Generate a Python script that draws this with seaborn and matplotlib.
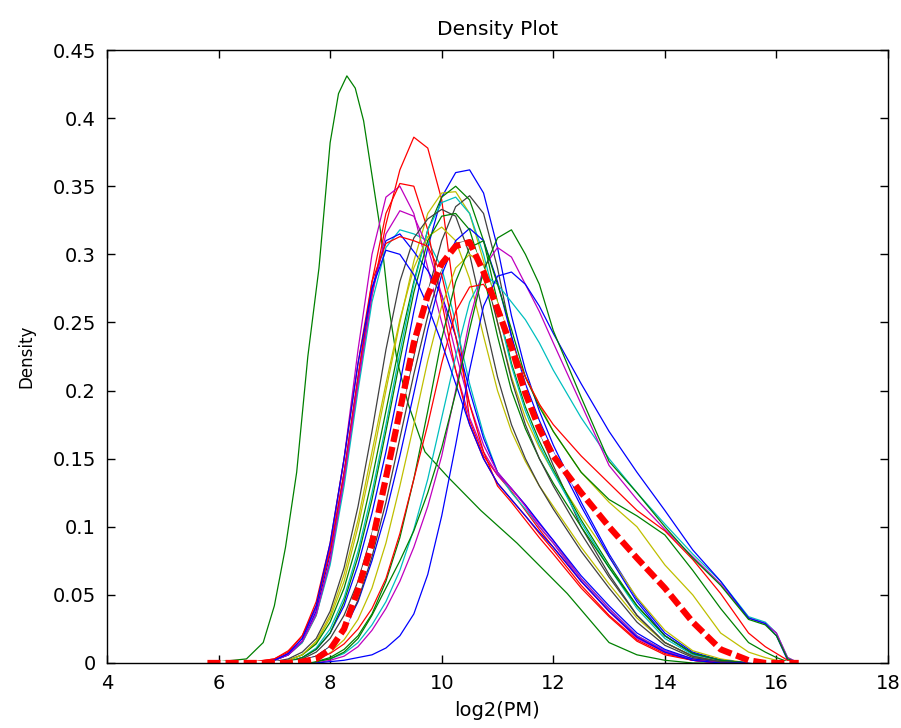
import numpy as np
import pandas as pd
import matplotlib
matplotlib.use("Agg")
import matplotlib.pyplot as plt
import seaborn as sns

# common x grid (log2 PM) the densities were read at
grid_x = [5.8, 6.5, 7.0, 7.25, 7.5, 7.75, 8.0, 8.25, 8.5, 8.75, 9.0, 9.25, 9.5, 9.75,
          10.0, 10.25, 10.5, 10.75, 11.0, 11.25, 11.5, 11.75, 12.0, 12.5, 13.0, 13.5,
          14.0, 14.5, 15.0, 15.5, 15.8, 16.0, 16.2, 16.4]

# MATLAB style colours
B, G, R, C, M, Y, K = "#0000FF", "#008000", "#FF0000", "#00BFBF", "#BF00BF", "#BFBF00", "#404040"

# the tall early sample has its own, finer x points
green_tall_x = [5.8, 6.5, 6.8, 7.0, 7.2, 7.4, 7.6, 7.8, 8.0, 8.15, 8.3, 8.45, 8.6, 8.75, 8.9,
                9.05, 9.2, 9.4, 9.7, 10.1, 10.7, 11.35, 12.25, 13.0, 13.5, 14.0, 14.5, 16.4]
green_tall = [0, .003, .015, .042, .085, .14, .225, .29, .382, .418, .431, .422, .398, .358, .318,
              .262, .222, .19, .155, .137, .112, .088, .051, .015, .006, .002, 0, 0]

# density per array (on grid_x)
red_tall = [0, 0, .002, .006, .015, .035, .075, .135, .205, .27, .322, .362, .386, .378, .34, .262, .178, .152, .138, .126, .112, .098, .085, .06, .038, .019, .008, .002, 0, 0, 0, 0, 0, 0]
magenta_a = [0, 0, .002, .007, .018, .04, .085, .15, .23, .30, .342, .35, .33, .29, .25, .215, .18, .155, .138, .128, .116, .102, .09, .062, .04, .02, .009, .003, .001, 0, 0, 0, 0, 0]
red_a = [0, 0, .003, .009, .02, .042, .082, .14, .21, .28, .33, .352, .35, .318, .265, .215, .175, .15, .132, .12, .108, .095, .083, .057, .035, .017, .007, .002, 0, 0, 0, 0, 0, 0]
magenta_b = [0, 0, .002, .006, .016, .036, .075, .135, .205, .27, .315, .332, .328, .305, .27, .228, .19, .16, .14, .128, .115, .10, .088, .06, .038, .018, .008, .002, 0, 0, 0, 0, 0, 0]
cyan_a = [0, 0, .002, .006, .015, .035, .072, .13, .20, .265, .305, .318, .315, .31, .29, .25, .205, .168, .14, .125, .113, .10, .088, .062, .04, .02, .009, .003, .001, 0, 0, 0, 0, 0]
blue_a = [0, 0, .002, .006, .016, .038, .08, .14, .21, .275, .31, .315, .302, .288, .27, .24, .20, .165, .14, .128, .116, .103, .09, .064, .042, .022, .01, .003, .001, 0, 0, 0, 0, 0]
red_b = [0, 0, .003, .008, .02, .045, .088, .15, .22, .28, .308, .313, .31, .306, .285, .24, .19, .155, .13, .118, .105, .092, .08, .055, .034, .016, .006, .002, 0, 0, 0, 0, 0, 0]
blue_b = [0, 0, .002, .007, .018, .042, .088, .15, .22, .275, .303, .30, .285, .262, .235, .205, .175, .15, .132, .12, .108, .096, .085, .06, .038, .019, .008, .002, 0, 0, 0, 0, 0, 0]
blue_c = [0, 0, 0, .001, .004, .01, .022, .042, .072, .11, .155, .205, .258, .305, .342, .36, .362, .345, .305, .255, .215, .185, .16, .118, .08, .047, .022, .008, .002, 0, 0, 0, 0, 0]
green_a = [0, 0, 0, .002, .006, .014, .03, .055, .09, .135, .185, .235, .28, .318, .342, .35, .34, .31, .265, .22, .188, .163, .142, .105, .072, .042, .02, .007, .002, 0, 0, 0, 0, 0]
yellow_a = [0, 0, 0, .002, .006, .015, .033, .06, .10, .148, .20, .25, .295, .33, .345, .346, .33, .295, .25, .21, .18, .158, .14, .108, .078, .048, .024, .009, .003, 0, 0, 0, 0, 0]
cyan_b = [0, 0, 0, .001, .004, .011, .025, .048, .082, .125, .175, .228, .278, .318, .338, .342, .33, .30, .26, .218, .185, .16, .14, .103, .07, .04, .018, .006, .002, 0, 0, 0, 0, 0]
gray_a = [0, 0, 0, .001, .003, .008, .018, .035, .06, .095, .135, .18, .225, .272, .31, .335, .343, .33, .29, .24, .20, .17, .145, .10, .065, .035, .015, .005, .001, 0, 0, 0, 0, 0]
gray_b = [0, 0, .001, .003, .008, .018, .038, .07, .115, .17, .23, .28, .312, .326, .333, .328, .30, .255, .21, .175, .15, .13, .113, .082, .055, .03, .013, .004, .001, 0, 0, 0, 0, 0]
blue_d = [0, 0, 0, 0, .002, .005, .012, .024, .045, .075, .11, .152, .198, .245, .285, .31, .319, .31, .28, .24, .205, .178, .155, .115, .078, .045, .02, .007, .002, 0, 0, 0, 0, 0]
yellow_b = [0, 0, 0, .002, .006, .016, .035, .065, .105, .155, .205, .252, .29, .313, .32, .31, .282, .24, .20, .17, .148, .13, .115, .085, .058, .033, .015, .005, .001, 0, 0, 0, 0, 0]
green_b = [0, 0, 0, .001, .004, .01, .022, .045, .078, .12, .17, .222, .272, .31, .328, .33, .318, .285, .24, .20, .172, .15, .132, .10, .07, .042, .02, .007, .002, 0, 0, 0, 0, 0]
gray_c = [0, 0, 0, 0, .002, .005, .012, .025, .046, .078, .118, .165, .212, .255, .29, .308, .31, .29, .25, .208, .175, .15, .13, .095, .063, .035, .015, .005, .001, 0, 0, 0, 0, 0]
yellow_c = [0, 0, 0, 0, .001, .003, .008, .017, .032, .055, .088, .13, .175, .222, .262, .29, .30, .292, .265, .235, .21, .19, .17, .14, .118, .10, .072, .05, .022, .008, .004, .002, 0, 0]
red_c = [0, 0, 0, 0, .001, .003, .007, .014, .025, .04, .062, .095, .135, .175, .22, .258, .276, .278, .262, .235, .21, .19, .175, .152, .132, .112, .097, .076, .051, .022, .012, .007, .002, 0]
green_c = [0, 0, 0, 0, 0, .001, .004, .01, .02, .036, .06, .092, .135, .185, .238, .28, .305, .31, .278, .245, .21, .188, .17, .14, .12, .108, .094, .068, .04, .015, .008, .004, .001, 0]
green_d = [0, 0, 0, 0, 0, .001, .003, .008, .018, .035, .055, .075, .097, .125, .158, .198, .245, .288, .312, .318, .30, .278, .244, .195, .148, .125, .10, .077, .057, .032, .028, .02, .003, 0]
magenta_c = [0, 0, 0, 0, 0, 0, .002, .005, .012, .024, .04, .06, .085, .115, .152, .2, .252, .29, .305, .298, .278, .258, .235, .19, .145, .12, .098, .078, .058, .033, .029, .022, .004, 0]
blue_e = [0, 0, 0, 0, 0, 0, .001, .002, .004, .006, .011, .02, .036, .065, .108, .16, .215, .262, .284, .287, .278, .262, .242, .205, .17, .14, .112, .083, .06, .033, .029, .02, .002, 0]
cyan_c = [0, 0, 0, 0, 0, .001, .003, .007, .015, .028, .045, .068, .098, .135, .18, .225, .265, .285, .278, .265, .252, .235, .215, .18, .15, .125, .102, .08, .06, .034, .03, .022, .004, 0]
# mean density (thick dashed)
mean_density = [0, 0, 0, 0, .001, .003, .01, .025, .054, .088, .136, .185, .235, .27, .293, .306, .309, .287, .26, .232, .198, .172, .152, .125, .10, .077, .055, .03, .01, .002, 0, 0, 0, 0]

curves = [
    (blue_c, B), (red_tall, R), (cyan_a, C), (magenta_a, M), (yellow_a, Y), (gray_a, K),
    (blue_a, B), (green_a, G), (red_a, R), (cyan_b, C), (magenta_b, M), (yellow_b, Y), (gray_b, K),
    (blue_d, B), (green_b, G), (red_b, R), (cyan_c, C), (magenta_c, M), (yellow_c, Y), (gray_c, K),
    (blue_e, B), (green_c, G), (red_c, R), (blue_b, B), (green_d, G),
]

sns.set_style("ticks")
plt.rcParams["font.family"] = ["DejaVu Sans"]
plt.rcParams["text.color"] = "black"
plt.rcParams["axes.labelcolor"] = "black"
plt.rcParams["xtick.color"] = "black"
plt.rcParams["ytick.color"] = "black"

fig = plt.figure(figsize=(9.01, 7.28), dpi=100)
ax = fig.add_axes([107 / 901, 65 / 728, 781 / 901, 613 / 728])

sns.lineplot(x=green_tall_x, y=green_tall, color=G, lw=0.9, ax=ax, sort=False)
for vals, col in curves:
    sns.lineplot(x=grid_x, y=vals, color=col, lw=0.9, ax=ax, sort=False)

sns.lineplot(x=grid_x, y=mean_density, color="white", lw=3, ax=ax, sort=False)
sns.lineplot(x=grid_x, y=mean_density, color=R, lw=4.5, ax=ax, sort=False,
             linestyle=(0, (2.1, 0.8)))

ax.set_xlim(4, 18)
ax.set_ylim(0, 0.45)
ax.set_xticks(np.arange(4, 19, 2))
ax.set_yticks(np.arange(0, 0.451, 0.05))
ax.yaxis.set_major_formatter(matplotlib.ticker.FuncFormatter(lambda v, p: "%g" % round(v, 2)))
ax.tick_params(direction="in", length=6, width=1, top=True, right=True, labelsize=14, pad=8,
               colors="black")
for s in ax.spines.values():
    s.set_linewidth(1)
    s.set_color("black")

ax.set_title("Density Plot", fontsize=14.5, pad=11, color="black")
ax.set_xlabel("log2(PM)", fontsize=14, labelpad=6, color="black")
ax.set_ylabel("Density", fontsize=12, labelpad=12, color="black")

fig.savefig("out.png", dpi=100)
